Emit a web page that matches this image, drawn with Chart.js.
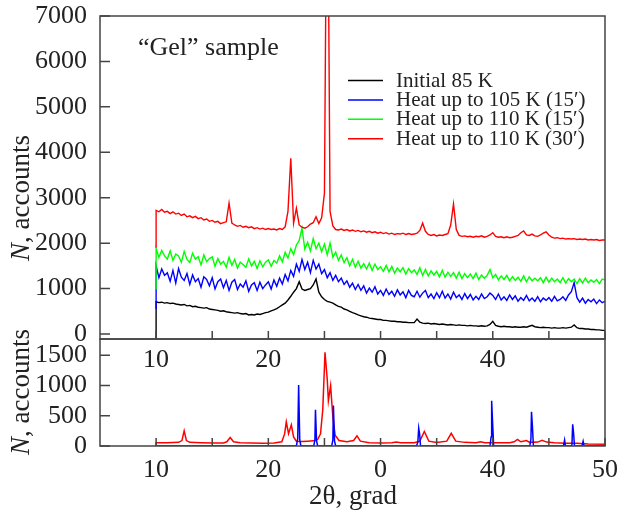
<!DOCTYPE html>
<html>
<head>
<meta charset="utf-8">
<script src="https://cdn.jsdelivr.net/npm/chart.js@4/dist/chart.umd.min.js"></script>
<style>
  body { margin: 0; background: #fff; }
  #wrap { position: relative; width: 619px; height: 515px; }
  canvas { position: absolute; left: 0; top: 0; }
</style>
</head>
<body>
<div id="wrap">
  <canvas id="bottomChart" width="619" height="515"></canvas>
  <canvas id="topChart" width="619" height="515"></canvas>
</div>
<script>
// 2-theta grid of the upper panel (first point is the start of the scan)
const twoTheta = [
  10,
  10, 10.25, 10.5, 10.75, 11, 11.25, 11.5, 11.75, 12, 12.25, 12.5, 12.75,
  13, 13.25, 13.5, 13.75, 14, 14.25, 14.5, 14.75, 15, 15.25, 15.5, 15.75,
  16, 16.25, 16.5, 16.75, 17, 17.25, 17.5, 17.75, 18, 18.25, 18.5, 18.75,
  19, 19.25, 19.5, 19.75, 20, 20.25, 20.5, 20.75, 21, 21.25, 21.5, 21.75,
  22, 22.25, 22.5, 22.75, 23, 23.25, 23.5, 23.75, 24, 24.25, 24.5, 24.75,
  25, 25.25, 25.5, 25.75, 26, 26.25, 26.5, 26.75, 27, 27.25, 27.5, 27.75,
  28, 28.25, 28.5, 28.75, 29, 29.25, 29.5, 29.75, 30, 30.25, 30.5, 30.75,
  31, 31.25, 31.5, 31.75, 32, 32.25, 32.5, 32.75, 33, 33.25, 33.5, 33.75,
  34, 34.25, 34.5, 34.75, 35, 35.25, 35.5, 35.75, 36, 36.25, 36.5, 36.75,
  37, 37.25, 37.5, 37.75, 38, 38.25, 38.5, 38.75, 39, 39.25, 39.5, 39.75,
  40, 40.25, 40.5, 40.75, 41, 41.25, 41.5, 41.75, 42, 42.25, 42.5, 42.75,
  43, 43.25, 43.5, 43.75, 44, 44.25, 44.5, 44.75, 45, 45.25, 45.5, 45.75,
  46, 46.25, 46.5, 46.75, 47, 47.25, 47.5, 47.75, 48, 48.25, 48.5, 48.75,
  49, 49.25, 49.5, 49.75,
  50
];

const initial85K = [
  -100,
  710, 690, 700, 680,  690, 670, 680, 660,  650, 640, 650, 620,
  630, 600, 610, 590,  580, 570, 580, 550,  540, 530, 520, 500,
  510, 490, 480, 470,  460, 470, 450, 440,  450, 420, 430, 420,
  440, 430, 450, 470,  480, 510, 530, 560,  600, 640, 680, 750,
  830, 920, 1000, 1150,  990, 960, 980, 1000,  1080, 1210, 920, 820,
  760, 720, 700, 680,  640, 610, 590, 550,  530, 500, 470, 450,
  420, 400, 380, 370,  350, 340, 330, 320,  320, 300, 300, 290,
  280, 280, 270, 270,  260, 260, 250, 250,  250, 330, 260, 240,
  230, 240, 220, 230,  220, 210, 220, 210,  200, 210, 200, 190,
  200, 190, 190, 180,  190, 180, 180, 170,  180, 170, 180, 210,
  280, 190, 170, 160,  170, 160, 160, 150,  160, 150, 150, 160,
  150, 170, 190, 160,  150, 140, 150, 140,  140, 130, 140, 130,
  130, 140, 130, 140,  150, 200, 140, 120,  120, 110, 110, 100,
  100, 90, 90, 80,
  80
];

const heat105K15 = [
  550,
  1500, 1240, 1430, 1290,  1350, 1160, 1400, 1120,  1440, 1250, 1180, 1330,
  1090, 1300, 1150, 1220,  1030, 1260, 1200, 1060,  1240, 990, 1150, 1210,
  1020, 1180, 960, 1140,  1200, 980, 1100, 1030,  1170, 940, 1080, 1130,
  960, 1140, 1000, 1080,  1150, 990, 1190, 1050,  1230, 1100, 1310, 1170,
  1400, 1270, 1540, 1380,  1640, 1420, 1580, 1350,  1620, 1430, 1540, 1330,
  1420, 1240, 1350, 1180,  1290, 1150, 1230, 1090,  1170, 1030, 1120, 980,
  1090, 960, 1060, 900,  1010, 920, 1040, 880,  960, 850, 990, 870,
  940, 830, 970, 860,  930, 800, 960, 850,  820, 940, 810, 900,
  960, 800, 880, 780,  910, 800, 940, 790,  880, 770, 920, 800,
  860, 760, 890, 780,  870, 750, 830, 760,  880, 780, 820, 900,
  850, 760, 880, 750,  820, 740, 860, 760,  840, 720, 800, 740,
  850, 730, 790, 720,  820, 710, 790, 740,  800, 720, 830, 730,
  760, 820, 740, 860,  930, 1130, 800, 700,  790, 680, 760, 710,
  770, 670, 750, 690,
  720
];

const heat110K15 = [
  980,
  1880, 1690, 1840, 1720,  1650, 1830, 1620, 1760,  1720, 1580, 1820, 1640,
  1570, 1780, 1650, 1700,  1520, 1740, 1590, 1660,  1700, 1490, 1660, 1540,
  1600, 1470, 1690, 1510,  1640, 1450, 1580, 1530,  1470, 1650, 1500, 1600,
  1440, 1610, 1480, 1580,  1630, 1490, 1620, 1560,  1720, 1590, 1800, 1670,
  1880, 1750, 1960, 2060,  2330, 1870, 2020, 1830,  2100, 1880, 2000, 1810,
  1980, 1740, 2000, 1690,  1800, 1620, 1740, 1570,  1680, 1500, 1640, 1470,
  1600, 1450, 1550, 1430,  1560, 1400, 1540, 1420,  1480, 1380, 1510, 1370,
  1490, 1340, 1450, 1370,  1460, 1320, 1440, 1350,  1410, 1310, 1460, 1290,
  1420, 1280, 1390, 1300,  1380, 1260, 1400, 1250,  1360, 1270, 1350, 1230,
  1360, 1220, 1330, 1240,  1320, 1220, 1340, 1200,  1300, 1230, 1290, 1420,
  1240, 1310, 1190, 1280,  1200, 1290, 1170, 1260,  1180, 1250, 1160, 1280,
  1150, 1260, 1170, 1230,  1170, 1240, 1130, 1250,  1140, 1230, 1150, 1210,
  1130, 1240, 1120, 1220,  1150, 1210, 1110, 1220,  1120, 1230, 1130, 1190,
  1140, 1200, 1110, 1210,
  1190
];

const heat110K30 = [
  1900,
  2720, 2690, 2740, 2680,  2700, 2650, 2690, 2640,  2660, 2610, 2640, 2580,
  2600, 2560, 2590, 2540,  2560, 2510, 2530, 2480,  2500, 2460, 2480, 2430,
  2450, 2470, 2880, 2440,  2400, 2370, 2390, 2350,  2370, 2340, 2360, 2320,
  2340, 2310, 2330, 2300,  2320, 2300, 2310, 2290,  2320, 2300, 2360, 2700,
  3870, 2440, 2770, 2400,  2350, 2330, 2360, 2420,  2450, 2580, 2430, 2560,
  3100, 12000, 2700, 2380,  2300, 2290, 2310, 2280,  2300, 2270, 2290, 2260,
  2280, 2250, 2270, 2240,  2260, 2230, 2250, 2220,  2240, 2210, 2230, 2200,
  2220, 2190, 2210, 2200,  2220, 2190, 2210, 2190,  2200, 2220, 2280, 2440,
  2260, 2190, 2170, 2190,  2160, 2180, 2170, 2190,  2210, 2400, 2860, 2300,
  2170, 2150, 2160, 2140,  2150, 2130, 2150, 2140,  2160, 2130, 2150, 2180,
  2230, 2150, 2130, 2140,  2120, 2140, 2120, 2130,  2150, 2170, 2230, 2270,
  2180, 2170, 2200, 2160,  2150, 2180, 2220, 2250,  2180, 2130, 2110, 2120,
  2100, 2110, 2090, 2100,  2090, 2100, 2080, 2090,  2080, 2090, 2070, 2080,
  2070, 2080, 2060, 2070,
  2070
];

const seriesLabels = ['Initial 85 K', 'Heat up to 105 K (15′)', 'Heat up to 110 K (15′)', 'Heat up to 110 K (30′)'];
const seriesColors = ['#000000', '#0000ff', '#00ff00', '#ff0000'];

// lower panel: red pattern and blue reference lines
const redAngle = [
  10, 10, 11, 12, 12.3, 12.5, 12.7, 13, 14, 15, 16, 16.3, 16.6, 16.9, 17.5, 18.5,
  19.5, 20.5, 21.2, 21.45, 21.6, 21.8, 22.05, 22.25, 22.5, 23, 23.5, 24, 24.4, 24.65,
  24.85, 25.05, 25.25, 25.35, 25.55, 25.75, 25.95, 26.3, 27, 27.6, 27.9, 28.2, 29, 30,
  31, 31.4, 31.8, 33, 33.5, 33.9, 34.3, 35, 35.9, 36.3, 36.7, 37.5, 38.5, 38.9, 39.3,
  40.5, 41.5, 41.9, 42.2, 42.5, 43, 43.3, 44, 44.4, 44.8, 45.5, 46.5, 47.5, 48.5, 50
];
const redCounts = [
  0, 55, 55, 60, 90, 250, 90, 60, 55, 50, 50, 70, 140, 70, 55, 50,
  45, 50, 70, 200, 400, 205, 350, 150, 80, 75, 80, 85, 110, 200,
  600, 1550, 1100, 750, 1000, 480, 180, 90, 70, 90, 167, 80, 55, 50,
  55, 65, 55, 55, 80, 240, 80, 60, 80, 210, 80, 60, 55, 70, 55,
  55, 55, 70, 110, 70, 90, 60, 65, 95, 65, 55, 45, 45, 35, 30
];
const blueAngle = [
  10, 22.5, 22.62, 22.7, 22.8, 22.9, 24.05, 24.15, 24.2, 24.3, 24.4,
  25.65, 25.75, 25.8, 25.9, 26, 33.2, 33.32, 33.4, 33.48, 33.56,
  39.75, 39.85, 39.9, 39.98, 40.08, 43.3, 43.4, 43.45, 43.53, 43.62,
  46.3, 46.4, 46.48, 47.05, 47.12, 47.2, 47.28, 47.95, 48.05, 48.13, 50
];
const blueCounts = [
  0, 0, 120, 1010, 100, 0, 0, 100, 600, 80, 0,
  0, 100, 670, 80, 0, 0, 60, 295, 200, 0,
  0, 150, 750, 400, 0, 0, 120, 567, 333, 0,
  0, 100, 0, 0, 360, 215, 0, 0, 78, 0, 0
];

const xTickValues = [10, 15, 20, 25, 30, 35, 40, 45, 50];
const xTickLabelsTop = ['10', '', '20', '', '0', '', '40', '', ''];
const xTickLabelsBottom = ['10', '', '20', '', '0', '', '40', '', '50'];
const yTickValuesTop = [0, 1000, 2000, 3000, 4000, 5000, 6000, 7000];
const yTickValuesBottom = [0, 500, 1000, 1500];

const SERIF = '"Liberation Serif", "Times New Roman", serif';
const tickFont = { family: SERIF, size: 26, lineHeight: 1 };
const AXIS = '#444';

function pts(xs, ys) {
  return xs.map((x, i) => ({ x, y: ys[i] }));
}

// tick marks pointing into the plot and a closed frame
const frame = {
  id: 'frame',
  afterDatasetsDraw(chart) {
    const { ctx, chartArea: a, scales: { x, y } } = chart;
    ctx.save();
    ctx.strokeStyle = AXIS;
    ctx.lineWidth = 1.5;
    ctx.beginPath();
    x.ticks.forEach(t => {
      const px = x.getPixelForValue(t.value);
      ctx.moveTo(px, a.bottom);
      ctx.lineTo(px, a.bottom - 8);
    });
    y.ticks.forEach(t => {
      const py = y.getPixelForValue(t.value);
      ctx.moveTo(a.left, py);
      ctx.lineTo(a.left + 10, py);
    });
    ctx.stroke();
    ctx.strokeRect(a.left, a.top, a.right - a.left, a.bottom - a.top);
    ctx.restore();
  }
};

function yTitle(ctx, cx, cy) {
  ctx.save();
  ctx.translate(cx, cy);
  ctx.rotate(-Math.PI / 2);
  ctx.fillStyle = '#222';
  ctx.textBaseline = 'middle';
  ctx.font = 'italic 27px ' + SERIF;
  const w1 = ctx.measureText('N').width;
  ctx.font = '27px ' + SERIF;
  const w2 = ctx.measureText(', accounts').width;
  const x0 = -(w1 + w2) / 2;
  ctx.textAlign = 'left';
  ctx.font = 'italic 27px ' + SERIF;
  ctx.fillText('N', x0, 0);
  ctx.font = '27px ' + SERIF;
  ctx.fillText(', accounts', x0 + w1, 0);
  ctx.restore();
}

const topText = {
  id: 'topText',
  afterDraw(chart) {
    const ctx = chart.ctx;
    ctx.save();
    ctx.fillStyle = '#222';
    ctx.font = '26px ' + SERIF;
    ctx.textBaseline = 'alphabetic';
    ctx.fillText('“Gel” sample', 138, 55);
    ctx.font = '21px ' + SERIF;
    seriesLabels.forEach((lab, i) => {
      const ly = 80.5 + i * 19.4;
      ctx.strokeStyle = seriesColors[i];
      ctx.lineWidth = 1.5;
      ctx.beginPath();
      ctx.moveTo(348, ly);
      ctx.lineTo(383, ly);
      ctx.stroke();
      ctx.fillText(lab, 396, ly + 6);
    });
    ctx.restore();
    yTitle(ctx, 22, 198);
  }
};

const bottomText = {
  id: 'bottomText',
  afterDraw(chart) {
    const ctx = chart.ctx;
    yTitle(ctx, 22, 392);
    ctx.save();
    ctx.fillStyle = '#222';
    ctx.font = '27px ' + SERIF;
    ctx.textAlign = 'center';
    ctx.textBaseline = 'middle';
    ctx.fillText('2θ, grad', 353, 497);
    ctx.restore();
  }
};

function scales(yMin, yMax, yTicks, xLabels, xPad) {
  return {
    x: {
      type: 'linear', min: 5, max: 50,
      afterBuildTicks: s => { s.ticks = xTickValues.map(v => ({ value: v })); },
      afterFit: s => { s.height = 40; s.paddingLeft = 0; s.paddingRight = 0; },
      grid: { display: false }, border: { display: false },
      ticks: { autoSkip: false, maxRotation: 0, padding: xPad, color: '#222', font: tickFont,
               callback: (v, i) => xLabels[i] }
    },
    y: {
      min: yMin, max: yMax,
      afterBuildTicks: s => { s.ticks = yTicks.map(v => ({ value: v })); },
      afterFit: s => { s.width = 100; s.paddingTop = 0; s.paddingBottom = 0; },
      grid: { display: false }, border: { display: false },
      ticks: { padding: 5, color: '#222', font: tickFont, callback: v => String(v) }
    }
  };
}

const common = {
  responsive: false,
  animation: false,
  events: [],
  plugins: { legend: { display: false }, tooltip: { enabled: false } },
  elements: { point: { radius: 0 }, line: { tension: 0 } }
};

const topSeries = [initial85K, heat105K15, heat110K15, heat110K30];

new Chart(document.getElementById('topChart'), {
  type: 'line',
  data: {
    datasets: topSeries.map((vals, i) => ({
      label: seriesLabels[i],
      data: pts(twoTheta, vals),
      borderColor: seriesColors[i],
      borderWidth: 1.4,
      order: 3 - i
    }))
  },
  options: Object.assign({}, common, {
    layout: { padding: { left: 0, top: 16, right: 14, bottom: 515 - 339 - 40 } },
    scales: scales(-110, 7000, yTickValuesTop, xTickLabelsTop, 0)
  }),
  plugins: [frame, topText]
});

new Chart(document.getElementById('bottomChart'), {
  type: 'line',
  data: {
    datasets: [
      { label: 'pattern', data: pts(redAngle, redCounts), borderColor: '#ff0000', borderWidth: 1.5, order: 1 },
      { label: 'reference', data: pts(blueAngle, blueCounts), borderColor: '#0000ff', borderWidth: 1.5, order: 0 }
    ]
  },
  options: Object.assign({}, common, {
    layout: { padding: { left: 0, top: 339, right: 14, bottom: 515 - 446 - 40 } },
    scales: scales(0, 1770, yTickValuesBottom, xTickLabelsBottom, 3)
  }),
  plugins: [frame, bottomText]
});
</script>
</body>
</html>
